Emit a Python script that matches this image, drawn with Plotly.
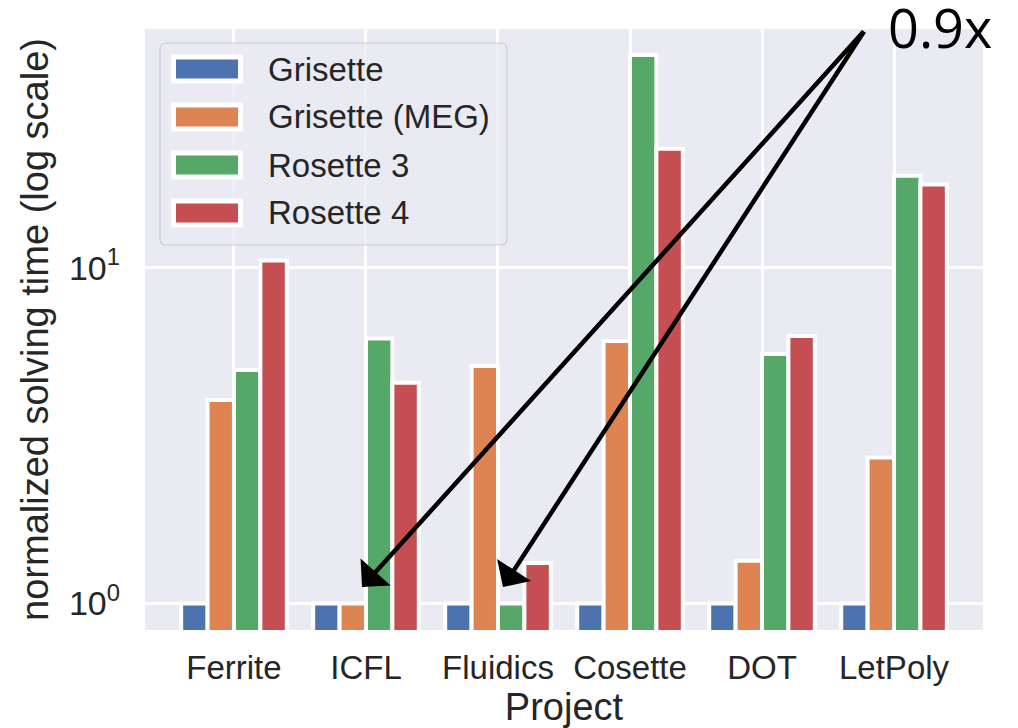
import plotly.graph_objects as go

# ---------------- data ----------------
projects = ["Ferrite", "ICFL", "Fluidics", "Cosette", "DOT", "LetPoly"]
series_names = ["Grisette", "Grisette (MEG)", "Rosette 3", "Rosette 4"]
grisette = [1.0, 1.0, 1.0, 1.0, 1.0, 1.0]
grisette_meg = [4.04, 1.0, 5.10, 6.05, 1.34, 2.72]
rosette3 = [4.96, 6.15, 1.0, 43.0, 5.53, 18.8]
rosette4 = [10.5, 4.54, 1.32, 22.6, 6.26, 17.7]
series_values = [grisette, grisette_meg, rosette3, rosette4]
colors = ["#4C72B0", "#DD8452", "#55A868", "#C44E52"]
y_tick_vals = [1, 10]
y_tick_text = ["10<sup>0</sup>", "10<sup>1</sup>"]
annotation_text = "0.9x"

# ---------------- layout geometry ----------------
W, H = 1018, 728
L, R, T, B = 145, 983, 29, 630
TEXT = "#262626"
FONT = "Liberation Sans, Arial, sans-serif"


def px(x):
    return (x - L) / (R - L)


def py(y):
    return (B - y) / (B - T)


fig = go.Figure()
for name, vals, col in zip(series_names, series_values, colors):
    fig.add_trace(go.Bar(
        x=projects, y=vals, name=name, showlegend=False,
        marker=dict(color=col, line=dict(color="white", width=4)),
    ))

shapes = []
annotations = []

# legend box (rounded)
lx0, ly0, lx1, ly1, rr = px(160), py(43), px(507), py(245), 6
rx = rr / (R - L)
ry = rr / (B - T)
path = (f"M{lx0+rx},{ly0} L{lx1-rx},{ly0} Q{lx1},{ly0} {lx1},{ly0-ry} "
        f"L{lx1},{ly1+ry} Q{lx1},{ly1} {lx1-rx},{ly1} L{lx0+rx},{ly1} "
        f"Q{lx0},{ly1} {lx0},{ly1+ry} L{lx0},{ly0-ry} Q{lx0},{ly0} {lx0+rx},{ly0} Z")
shapes.append(dict(type="path", xref="paper", yref="paper", path=path,
                   fillcolor="rgba(234,234,242,0.8)",
                   line=dict(color="rgba(200,200,208,0.9)", width=1.2), layer="above"))
for i, (name, col) in enumerate(zip(series_names, colors)):
    cy = 69 + 48 * i
    shapes.append(dict(type="rect", xref="paper", yref="paper",
                       x0=px(173.5), x1=px(240.5), y0=py(cy - 12), y1=py(cy + 12),
                       fillcolor=col, line=dict(color="white", width=5), layer="above"))
    annotations.append(dict(xref="paper", yref="paper", x=px(266), y=py(cy),
                            xanchor="left", yanchor="middle", text=name, showarrow=False,
                            font=dict(family=FONT, size=33, color=TEXT)))

# arrows toward the 0.9x bars
tail = (4.78, 1.708)
for tip in [(0.970, 0.049), (2.038, 0.049)]:
    annotations.append(dict(x=tip[0], y=tip[1], xref="x", yref="y",
                            ax=tail[0], ay=tail[1], axref="x", ayref="y",
                            text="", showarrow=True, arrowhead=1, arrowsize=1.5,
                            arrowwidth=4.5, arrowcolor="black", standoff=0))
annotations.append(dict(xref="paper", yref="paper", x=px(940), y=py(27),
                        xanchor="center", yanchor="middle", text=annotation_text,
                        showarrow=False,
                        font=dict(family="Open Sans, Noto Sans, sans-serif", size=54, color="black")))

fig.update_layout(
    width=W, height=H,
    margin=dict(l=L, r=W - R, t=T, b=H - B, autoexpand=False),
    paper_bgcolor="white", plot_bgcolor="#EAEAF2",
    barmode="group", bargap=0.2, bargroupgap=0,
    font=dict(family=FONT, color=TEXT, size=32),
    shapes=shapes, annotations=annotations,
)
fig.update_xaxes(
    range=[-0.674, 5.674], showgrid=True, gridcolor="white", gridwidth=3,
    zeroline=False, showline=False, ticks="", ticklabelstandoff=15,
    tickfont=dict(family=FONT, size=33, color=TEXT),
    title=dict(text="Project", font=dict(family=FONT, size=38, color=TEXT), standoff=12),
    automargin=False,
)
fig.update_yaxes(
    type="log", range=[-0.079, 1.711], tickvals=y_tick_vals, ticktext=y_tick_text,
    showgrid=True, gridcolor="white", gridwidth=3, zeroline=False, showline=False,
    ticks="", ticklabelstandoff=24,
    tickfont=dict(family=FONT, size=34, color=TEXT),
    title=dict(text="normalized solving time (log scale)",
               font=dict(family=FONT, size=38, color=TEXT), standoff=8),
    automargin=False,
)

fig.write_html("out.html", config={"displayModeBar": False},
               post_script="document.body.style.margin='0';")
